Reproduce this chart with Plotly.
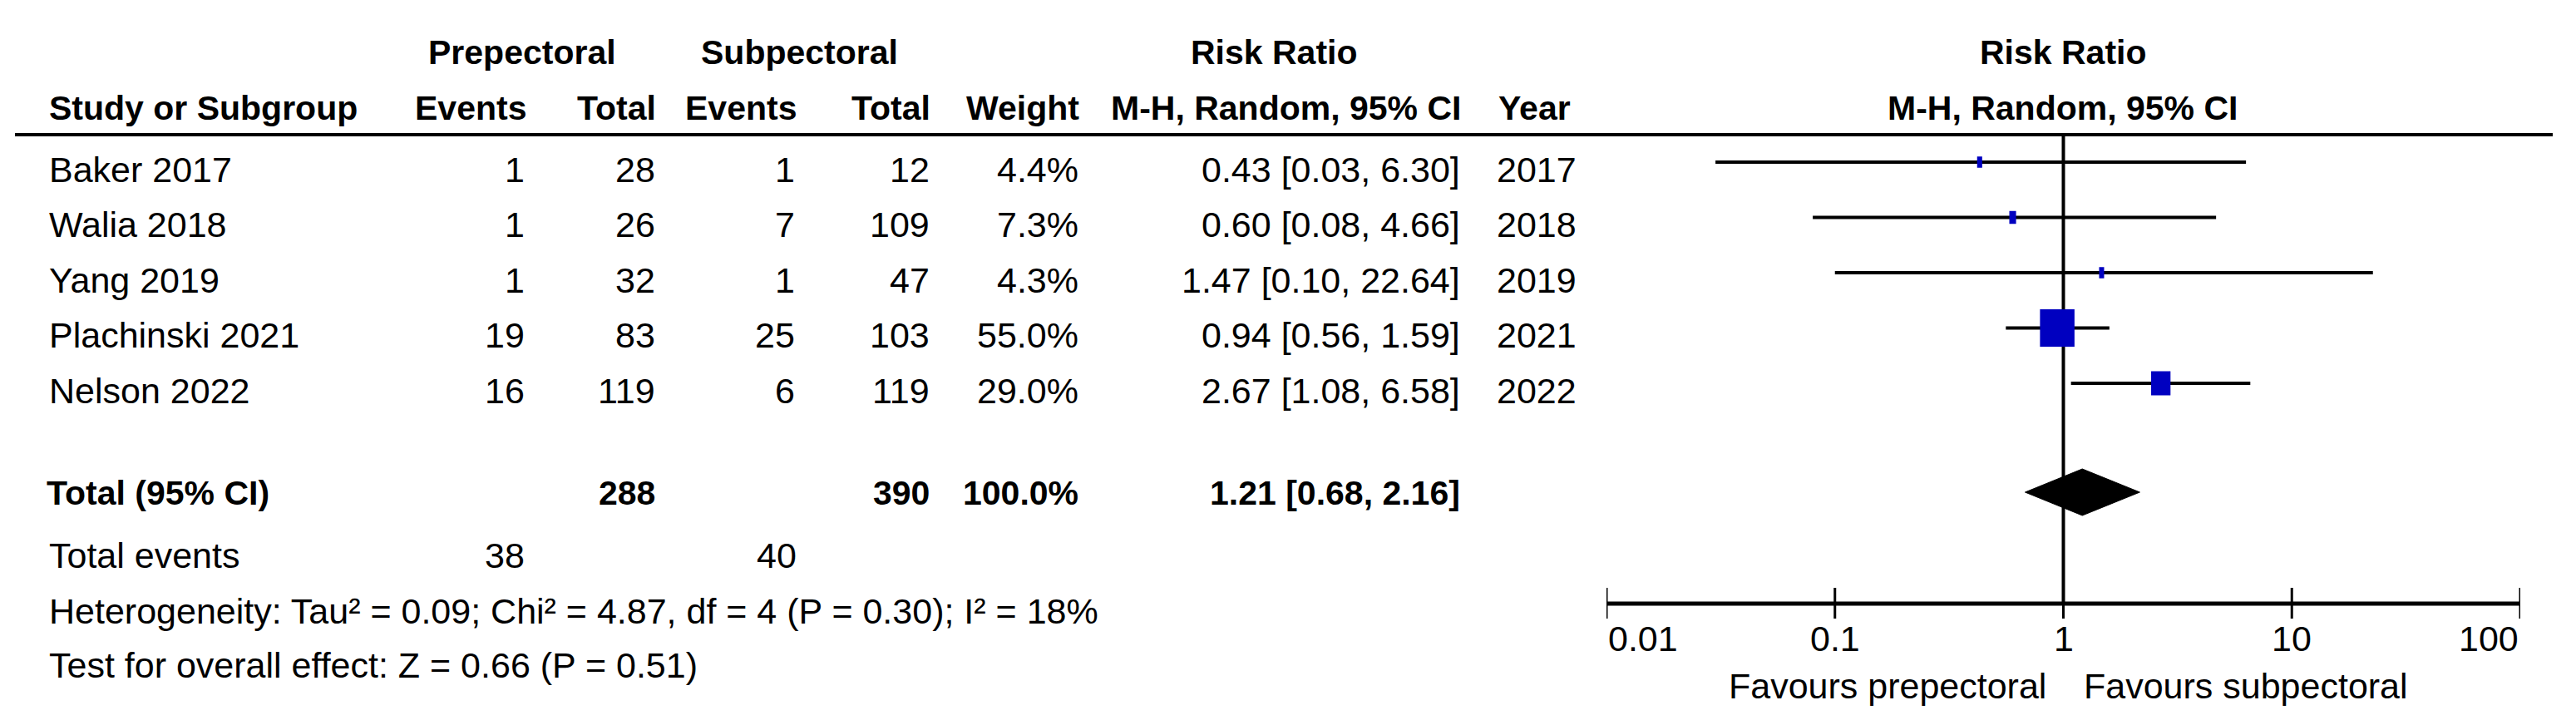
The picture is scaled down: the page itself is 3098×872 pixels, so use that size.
import math
import plotly.graph_objects as go

# ---------------- data ----------------
studies = ["Baker 2017", "Walia 2018", "Yang 2019", "Plachinski 2021", "Nelson 2022"]
pre_events = [1, 1, 1, 19, 16]
pre_total = [28, 26, 32, 83, 119]
sub_events = [1, 7, 1, 25, 6]
sub_total = [12, 109, 47, 103, 119]
weights = [4.4, 7.3, 4.3, 55.0, 29.0]
rr = [0.43, 0.60, 1.47, 0.94, 2.67]
ci_lo = [0.03, 0.08, 0.10, 0.56, 1.08]
ci_hi = [6.30, 4.66, 22.64, 1.59, 6.58]
years = [2017, 2018, 2019, 2021, 2022]
pooled_rr = 1.21
pooled_lo = 0.68
pooled_hi = 2.16
heterogeneity = "Heterogeneity: Tau² = 0.09; Chi² = 4.87, df = 4 (P = 0.30); I² = 18%"
overall_test = "Test for overall effect: Z = 0.66 (P = 0.51)"
tick_vals = [0.01, 0.1, 1, 10, 100]
tick_labels = ["0.01", "0.1", "1", "10", "100"]
favours_left = "Favours prepectoral"
favours_right = "Favours subpectoral"

# ---------------- layout constants ----------------
W, H = 3098, 872
ROW_PX = 66.5          # pixels per table row
ROW0_PX = 195          # pixel of first study row
DEC_PX = 274.75        # pixels per decade on forest axis
X_LEFT_PX, X_RIGHT_PX = 1932, 3031
FONT = "Liberation Sans, Arial, sans-serif"
FS_REG = 43
FS_BOLD = 41
BLUE = "rgb(0,0,192)"

def px(v):
    return v / W

n = len(studies)
TEXT_OFF = 0.135
TOTAL_ROW = 5.97
TOTAL_TEXT_ROW = 5.99
EVENTS_ROW = 7.11
HET_ROW = 8.12
TEST_ROW = 9.10
AXIS_ROW = 7.985
TICKLAB_ROW = 8.61
FAV_ROW = 9.47
HDR1_ROW = -1.98
HDR2_ROW = -0.98
HLINE_ROW = -0.496

fig = go.Figure()

# null line
fig.add_trace(go.Scatter(x=[1, 1], y=[HLINE_ROW, AXIS_ROW], mode="lines",
                         line=dict(color="black", width=4), hoverinfo="skip", showlegend=False))

# CI lines
cx, cy = [], []
for i in range(n):
    cx += [ci_lo[i], ci_hi[i], None]
    cy += [i, i, None]
fig.add_trace(go.Scatter(x=cx, y=cy, mode="lines", line=dict(color="black", width=4),
                         hoverinfo="skip", showlegend=False))

# weight boxes
bx, by = [], []
for i in range(n):
    wpx = 0.7 * weights[i] + 3
    hpx = 0.62 * weights[i] + 11
    f = 10 ** (wpx / 2 / DEC_PX)
    hh = hpx / 2 / ROW_PX
    bx += [rr[i] / f, rr[i] * f, rr[i] * f, rr[i] / f, rr[i] / f, None]
    by += [i - hh, i - hh, i + hh, i + hh, i - hh, None]
fig.add_trace(go.Scatter(x=bx, y=by, mode="lines", fill="toself", fillcolor=BLUE,
                         line=dict(color=BLUE, width=0), hoverinfo="skip", showlegend=False))

# diamond
dh = 28 / ROW_PX
fig.add_trace(go.Scatter(x=[pooled_lo, pooled_rr, pooled_hi, pooled_rr, pooled_lo],
                         y=[TOTAL_ROW, TOTAL_ROW - dh, TOTAL_ROW, TOTAL_ROW + dh, TOTAL_ROW],
                         mode="lines", fill="toself", fillcolor="black",
                         line=dict(color="black", width=1), hoverinfo="skip", showlegend=False))

# axis line and ticks
fig.add_trace(go.Scatter(x=[tick_vals[0], tick_vals[-1]], y=[AXIS_ROW, AXIS_ROW], mode="lines",
                         line=dict(color="black", width=5), hoverinfo="skip", showlegend=False))
tx, ty = [], []
for t in tick_vals:
    tx += [t, t, None]
    ty += [AXIS_ROW - 19 / ROW_PX, AXIS_ROW + 18 / ROW_PX, None]
fig.add_trace(go.Scatter(x=tx, y=ty, mode="lines", line=dict(color="black", width=3),
                         hoverinfo="skip", showlegend=False))

ann = []
def txt(text, xpx, row, anchor="left", bold=False):
    t = f"<b>{text}</b>" if bold else text
    ann.append(dict(text=t, x=px(xpx), y=row, xref="paper", yref="y",
                    xanchor=anchor, yanchor="middle", showarrow=False,
                    font=dict(family=FONT, size=FS_BOLD if bold else FS_REG, color="black")))

# headers
txt("Prepectoral", 628, HDR1_ROW, "center", True)
txt("Subpectoral", 961, HDR1_ROW, "center", True)
txt("Risk Ratio", 1532, HDR1_ROW, "center", True)
txt("Risk Ratio", 2481, HDR1_ROW, "center", True)
txt("Study or Subgroup", 57, HDR2_ROW, "left", True)
txt("Events", 635, HDR2_ROW, "right", True)
txt("Total", 791, HDR2_ROW, "right", True)
txt("Events", 960, HDR2_ROW, "right", True)
txt("Total", 1121, HDR2_ROW, "right", True)
txt("Weight", 1300, HDR2_ROW, "right", True)
txt("M-H, Random, 95% CI", 1759, HDR2_ROW, "right", True)
txt("Year", 1800, HDR2_ROW, "left", True)
txt("M-H, Random, 95% CI", 2480, HDR2_ROW, "center", True)

# study rows
for i in range(n):
    r = i + TEXT_OFF
    txt(studies[i], 57, r, "left")
    txt(str(pre_events[i]), 633, r, "right")
    txt(str(pre_total[i]), 790, r, "right")
    txt(str(sub_events[i]), 958, r, "right")
    txt(str(sub_total[i]), 1120, r, "right")
    txt(f"{weights[i]:.1f}%", 1299, r, "right")
    txt(f"{rr[i]:.2f} [{ci_lo[i]:.2f}, {ci_hi[i]:.2f}]", 1758, r, "right")
    txt(str(years[i]), 1798, r, "left")

# total row
txt("Total (95% CI)", 54, TOTAL_TEXT_ROW, "left", True)
txt(str(sum(pre_total)), 790, TOTAL_TEXT_ROW, "right", True)
txt(str(sum(sub_total)), 1120, TOTAL_TEXT_ROW, "right", True)
txt(f"{sum(weights):.1f}%", 1299, TOTAL_TEXT_ROW, "right", True)
txt(f"{pooled_rr:.2f} [{pooled_lo:.2f}, {pooled_hi:.2f}]", 1758, TOTAL_TEXT_ROW, "right", True)

txt("Total events", 57, EVENTS_ROW, "left")
txt(str(sum(pre_events)), 633, EVENTS_ROW, "right")
txt(str(sum(sub_events)), 960, EVENTS_ROW, "right")
txt(heterogeneity, 57, HET_ROW, "left")
txt(overall_test, 57, TEST_ROW, "left")

# tick labels
for k, (v, lab) in enumerate(zip(tick_vals, tick_labels)):
    anchor = "left" if k == 0 else ("right" if k == len(tick_vals) - 1 else "center")
    ann.append(dict(text=lab, x=math.log10(v), y=TICKLAB_ROW, xref="x", yref="y",
                    xanchor=anchor, yanchor="middle", showarrow=False,
                    font=dict(family=FONT, size=FS_REG, color="black")))

txt(favours_left, 2463, FAV_ROW, "right")
txt(favours_right, 2504, FAV_ROW, "left")

shapes = [dict(type="line", xref="paper", yref="y", x0=px(18), x1=px(3070),
               y0=HLINE_ROW, y1=HLINE_ROW, line=dict(color="black", width=4))]

fig.update_layout(
    width=W, height=H, margin=dict(l=0, r=0, t=0, b=0),
    paper_bgcolor="white", plot_bgcolor="white",
    showlegend=False, annotations=ann, shapes=shapes,
    xaxis=dict(type="log", range=[-2, 2], domain=[px(X_LEFT_PX), px(X_RIGHT_PX)],
               visible=False, fixedrange=True),
    yaxis=dict(range=[(H - ROW0_PX) / ROW_PX, -ROW0_PX / ROW_PX], domain=[0, 1],
               visible=False, fixedrange=True),
)

fig.write_html("out.html", config={"displayModeBar": False},
               post_script="document.body.style.margin='0';document.body.style.overflow='hidden';")
